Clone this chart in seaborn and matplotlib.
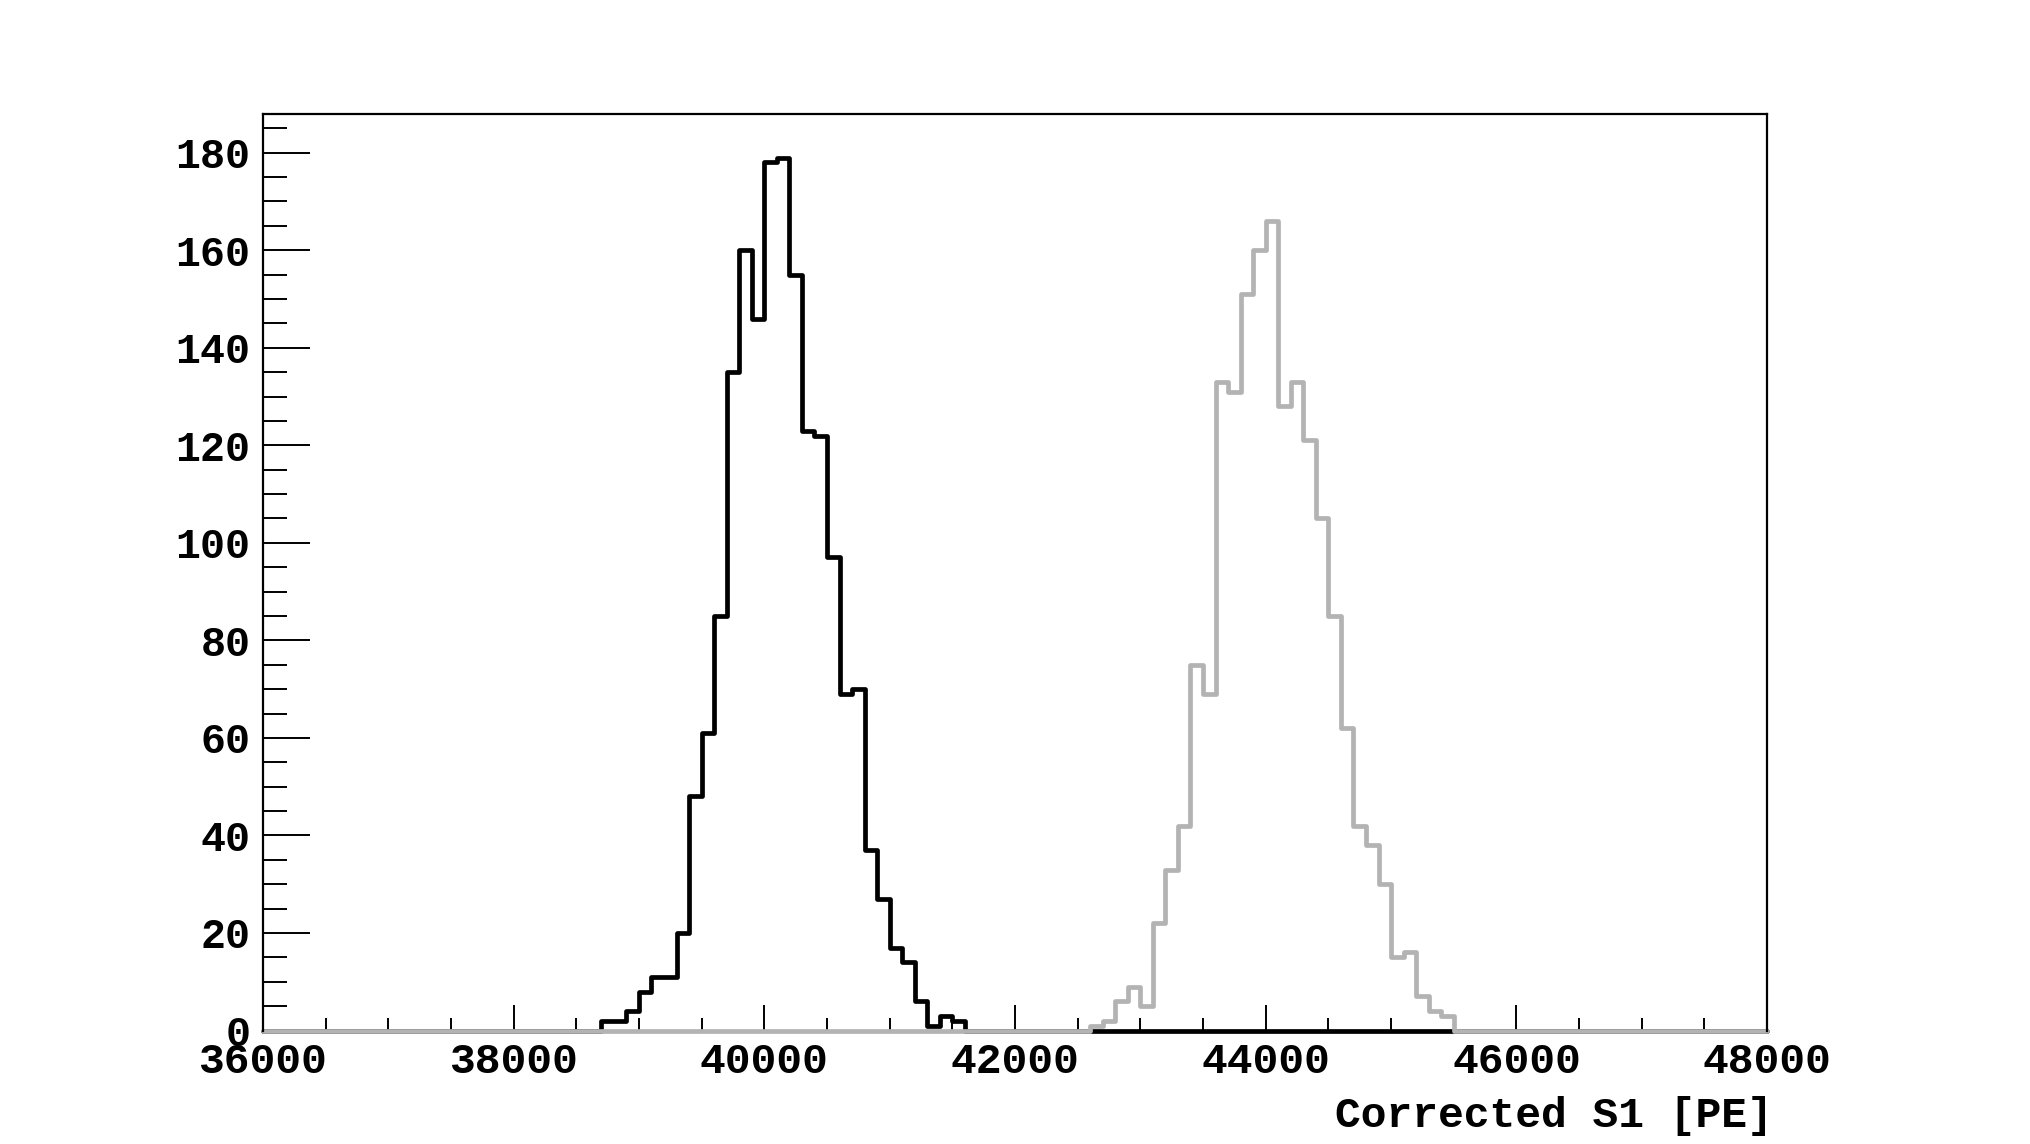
import numpy as np
import pandas as pd
import matplotlib
matplotlib.use('Agg')
import matplotlib.pyplot as plt
from matplotlib.ticker import MultipleLocator
import seaborn as sns

# binning of the two spectra (100 PE bins)
x_min, x_max, bin_w = 36000, 48000, 100

# black spectrum, first non-empty bin starts at 38700
black_first = 38700
black_counts = [2, 2, 4, 8, 11, 11, 20, 48, 61, 85, 135, 160, 146, 178, 179,
                155, 123, 122, 97, 69, 70, 37, 27, 17, 14, 6, 1, 3, 2]

# grey spectrum, first non-empty bin starts at 42600
grey_first = 42600
grey_counts = [1, 2, 6, 9, 5, 22, 33, 42, 75, 69, 133, 131, 151, 160, 166,
               128, 133, 121, 105, 85, 62, 42, 38, 30, 15, 16, 7, 4, 3]

x_ticks = [36000, 38000, 40000, 42000, 44000, 46000, 48000]
y_ticks = [0, 20, 40, 60, 80, 100, 120, 140, 160, 180]
x_label = 'Corrected S1 [PE]'

sns.set_style('ticks')
plt.rcParams['font.family'] = ['Liberation Mono', 'DejaVu Sans']
plt.rcParams['font.weight'] = 'bold'
for k in ['text.color', 'axes.labelcolor', 'xtick.color', 'ytick.color']:
    plt.rcParams[k] = 'black'

centers = np.arange(x_min, x_max, bin_w) + bin_w / 2


def spectrum(first, counts):
    w = np.zeros(len(centers))
    i = (first - x_min) // bin_w
    w[i:i + len(counts)] = counts
    return pd.DataFrame({'s1': centers, 'n': w})


fig = plt.figure(figsize=(20.3, 11.44), dpi=100)
ax = fig.add_axes([0.1295, 0.0992, 0.741, 0.8012])

sns.histplot(data=spectrum(black_first, black_counts), x='s1', weights='n',
             binwidth=bin_w, binrange=(x_min, x_max), element='step', fill=False,
             color='black', linewidth=3.4, ax=ax, clip_on=False)
sns.histplot(data=spectrum(grey_first, grey_counts), x='s1', weights='n',
             binwidth=bin_w, binrange=(x_min, x_max), element='step', fill=False,
             color='#b3b3b3', linewidth=3.4, ax=ax, clip_on=False)

ax.set_xlim(x_min, x_max)
ax.set_ylim(0, 1.05 * max(max(black_counts), max(grey_counts)))

ax.set_xticks(x_ticks)
ax.set_xticklabels([str(t) for t in x_ticks])
ax.set_yticks(y_ticks)
ax.set_yticklabels([str(t) for t in y_ticks])
ax.xaxis.set_minor_locator(MultipleLocator(500))
ax.yaxis.set_minor_locator(MultipleLocator(5))

ax.tick_params(axis='both', which='both', direction='in', width=1.4, color='black',
               top=False, right=False)
ax.tick_params(axis='x', which='major', length=19, pad=8, labelsize=31)
ax.tick_params(axis='x', which='minor', length=9.5)
ax.tick_params(axis='y', which='major', length=34, pad=9, labelsize=30)
ax.tick_params(axis='y', which='minor', length=17)

for s in ['top', 'right', 'left']:
    ax.spines[s].set_linewidth(1.6)
    ax.spines[s].set_color('black')
ax.spines['bottom'].set_visible(False)

ax.set_ylabel('')
ax.set_xlabel(x_label, loc='right', fontsize=31, fontweight='bold')
ax.xaxis.set_label_coords(1.004, -0.093)
ax.xaxis.label.set_va('center')

fig.savefig('out.png', dpi=100, facecolor='white')
